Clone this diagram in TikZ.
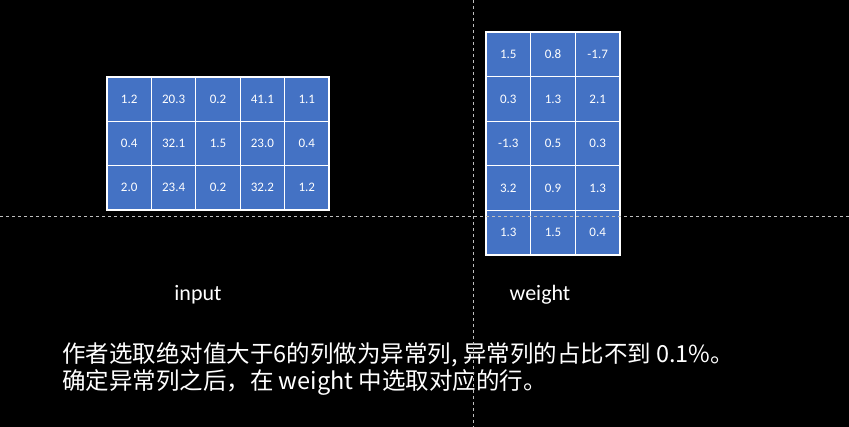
\documentclass[tikz,border=0pt]{standalone}
\usepackage{fontspec}
\setmainfont{Carlito}
\newfontfamily\cjk{Noto Sans CJK SC}
\newfontfamily\cellfnt{Carlito}
\definecolor{cellblue}{HTML}{4472C4}
\definecolor{guide}{HTML}{BFBFBF}
\tikzset{
  cellbox/.style={rectangle, fill=cellblue, draw=white, line width=1.1pt, inner sep=0pt,
    minimum width=44.4pt, minimum height=44.4pt, text=white, font=\cellfnt\fontsize{13}{13}\selectfont},
  guideline/.style={draw=guide, line width=0.8pt, dash pattern=on 3pt off 3pt},
  lbl/.style={text=white, font=\fontsize{22}{22}\selectfont, inner sep=0pt},
  body/.style={text=white, font=\cjk\fontsize{23.5}{27}\selectfont, align=left, inner sep=0pt, anchor=north west}
}
\begin{document}
\begin{tikzpicture}[x=1pt,y=-1pt]
\fill[black] (0,0) rectangle (849,427);
\useasboundingbox (0,0) rectangle (849,427);
% input table
\foreach \row [count=\i] in {{1.2,20.3,0.2,41.1,1.1},{0.4,32.1,1.5,23.0,0.4},{2.0,23.4,0.2,32.2,1.2}}{
  \foreach \v [count=\j] in \row {
    \node[cellbox] (in-\i-\j) at ({107+44.4*(\j-0.5)},{77+44.33*(\i-0.5)}) {\v};
  }
}
% weight table
\foreach \row [count=\i] in {{1.5,0.8,-1.7},{0.3,1.3,2.1},{-1.3,0.5,0.3},{3.2,0.9,1.3},{1.3,1.5,0.4}}{
  \foreach \v [count=\j] in \row {
    \node[cellbox, minimum width=44.67pt, minimum height=44.6pt] (w-\i-\j) at ({486+44.67*(\j-0.5)},{32+44.6*(\i-0.5)}) {\v};
  }
}
\node[lbl] (inlabel) at (198,295) {input};
\node[lbl] (wlabel) at (540,295) {weight};
\node[body] (desc) at (62,342) {作者选取绝对值大于6的列做为异常列, 异常列的占比不到 0.1\%。\\确定异常列之后，在 weight 中选取对应的行。};
% guide lines
\coordinate (hl) at (0,216);
\coordinate (hr) at (849,216);
\coordinate (vt) at (473,0);
\coordinate (vb) at (473,427);
\draw[guideline] (hl) -- (hr);
\draw[guideline] (vt) -- (vb);
\end{tikzpicture}
\end{document}
